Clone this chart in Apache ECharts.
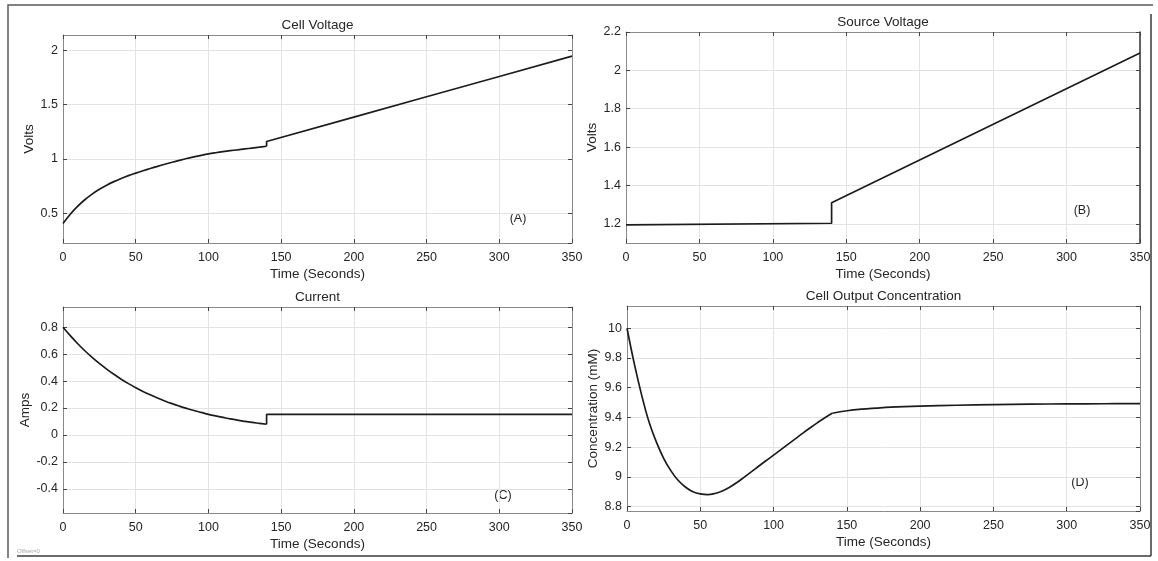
<!DOCTYPE html>
<html>
<head>
<meta charset="utf-8">
<script src="https://cdn.jsdelivr.net/npm/echarts@6/dist/echarts.min.js"></script>
<style>
  html, body { margin: 0; padding: 0; background: #ffffff; }
  #chart { width: 1158px; height: 561px; }
</style>
</head>
<body>
<div id="chart"></div>
<script>
// ---------- data ----------
const panelTitles = ['Cell Voltage', 'Source Voltage', 'Current', 'Cell Output Concentration'];
const panelLetters = ['(A)', '(B)', '(C)', '(D)'];
const yNames = ['Volts', 'Volts', 'Amps', 'Concentration (mM)'];
const xName = 'Time (Seconds)';

// time samples for the first phase (0..140 s)
const timeEarly = [0,5,10,15,20,25,30,35,40,45,50,55,60,65,70,75,80,85,90,95,100,105,110,115,120,125,130,135,140];

// (A) Cell voltage
const cellVoltageEarly = [0.405,0.49,0.562,0.623,0.675,0.719,0.757,0.790,0.819,0.845,0.868,0.890,0.911,0.931,0.950,0.968,0.986,1.003,1.018,1.032,1.045,1.056,1.066,1.075,1.083,1.091,1.099,1.107,1.116];
const cellVoltageLateTime = [140,140,200,250,300,350];
const cellVoltageLate = [1.116,1.16,1.384,1.571,1.758,1.945];

// (B) Source voltage
const sourceTime = [0,140,140,350];
const sourceVoltage = [1.195,1.203,1.31,2.09];

// (C) Current
const currentEarly = [0.80,0.737,0.679,0.625,0.576,0.531,0.489,0.450,0.414,0.381,0.351,0.323,0.298,0.274,0.252,0.232,0.214,0.197,0.181,0.167,0.153,0.141,0.130,0.119,0.110,0.101,0.093,0.086,0.079];
const currentLateTime = [140,140,350];
const currentLate = [0.079,0.152,0.152];

// (D) Cell output concentration
const concEarly = [10.0,9.76,9.55,9.37,9.235,9.125,9.04,8.975,8.93,8.90,8.885,8.88,8.888,8.905,8.93,8.962,8.998,9.035,9.073,9.11,9.146,9.183,9.22,9.257,9.294,9.33,9.365,9.398,9.428];
const concLateTime = [140,150,160,170,180,200,225,250,275,300,325,350];
const concLate = [9.428,9.445,9.456,9.463,9.469,9.476,9.482,9.486,9.489,9.491,9.492,9.493];

// axis ranges
const xMin = 0, xMax = 350, xInterval = 50;
const yRanges = [
  { min: 0.225, max: 2.14, split: 4, showMax: false },
  { min: 1.1, max: 2.2, split: 5, showMax: true },
  { min: -0.58, max: 0.95, split: 7, showMax: false },
  { min: 8.77, max: 10.15, split: 7, showMax: false }
];

// ---------- layout ----------
const FONT = 'Liberation Sans, Arial, Helvetica, sans-serif';
const TXT = '#262626';
const grids = [
  { left: 63, top: 35, width: 509, height: 208 },
  { left: 626, top: 32, width: 514, height: 211 },
  { left: 63, top: 307, width: 509, height: 206 },
  { left: 627, top: 306, width: 513, height: 205 }
];
const yNameGaps = [25, 26, 28, 27];
const letterPos = [[518, 219], [1082, 211], [503, 496], [1080, 483]];
const rightEdgeColors = ['#8a8a8a', '#333333', '#8a8a8a', '#8a8a8a'];

function zip(xs, ys) { return xs.map((x, i) => [x, ys[i]]); }

const tick = { show: true, inside: true, length: 4, lineStyle: { color: '#444' } };
const xAxes = [], yAxes = [];
grids.forEach((g, i) => {
  xAxes.push({
    type: 'value', gridIndex: i, position: 'bottom', min: xMin, max: xMax, interval: xInterval,
    name: xName, nameLocation: 'middle', nameGap: 24,
    nameTextStyle: { fontFamily: FONT, fontSize: 13.5, color: TXT },
    axisLine: { show: true, onZero: false, lineStyle: { color: '#8a8a8a', width: 1 } },
    axisTick: tick,
    axisLabel: { fontFamily: FONT, fontSize: 12.5, color: TXT, margin: 8 },
    splitLine: { show: true, lineStyle: { color: '#e3e3e3', width: 1 } }
  });
  xAxes.push({
    type: 'value', gridIndex: i, position: 'top', min: xMin, max: xMax, interval: xInterval,
    axisLine: { show: true, onZero: false, lineStyle: { color: '#8a8a8a', width: 1 } },
    axisTick: tick,
    axisLabel: { show: false }, splitLine: { show: false }
  });
  const r = yRanges[i];
  yAxes.push({
    type: 'value', gridIndex: i, position: 'left', min: r.min, max: r.max, splitNumber: r.split,
    name: yNames[i], nameLocation: 'middle', nameGap: yNameGaps[i],
    nameTextStyle: { fontFamily: FONT, fontSize: 13.5, color: TXT },
    axisLine: { show: true, onZero: false, lineStyle: { color: '#8a8a8a', width: 1 } },
    axisTick: tick,
    axisLabel: { fontFamily: FONT, fontSize: 12.5, color: TXT, margin: 5, showMinLabel: false, showMaxLabel: r.showMax },
    splitLine: { show: true, lineStyle: { color: '#e3e3e3', width: 1 } }
  });
  yAxes.push({
    type: 'value', gridIndex: i, position: 'right', min: r.min, max: r.max, splitNumber: r.split,
    axisLine: { show: true, onZero: false, lineStyle: { color: rightEdgeColors[i], width: i === 1 ? 1.5 : 1 } },
    axisTick: tick,
    axisLabel: { show: false }, splitLine: { show: false }
  });
});

const lineStyle = { color: '#1c1c1c', width: 1.7 };
function lineSeries(panel, data, smooth) {
  return {
    type: 'line', xAxisIndex: panel * 2, yAxisIndex: panel * 2, data: data,
    showSymbol: false, smooth: smooth ? 0.4 : false,
    lineStyle: lineStyle, animation: false, clip: true
  };
}

const series = [
  lineSeries(0, zip(timeEarly, cellVoltageEarly), true),
  lineSeries(0, zip(cellVoltageLateTime, cellVoltageLate), false),
  lineSeries(1, zip(sourceTime, sourceVoltage), false),
  lineSeries(2, zip(timeEarly, currentEarly), true),
  lineSeries(2, zip(currentLateTime, currentLate), false),
  lineSeries(3, zip(timeEarly, concEarly), true),
  lineSeries(3, zip(concLateTime, concLate), true)
];

const graphics = [];
graphics.push({ type: 'polyline', silent: true, shape: { points: [[8, 558], [8, 5], [1153, 5]] }, style: { stroke: '#5a5a5a', lineWidth: 1.5, fill: null } });
graphics.push({ type: 'line', silent: true, shape: { x1: 1151, y1: 14, x2: 1151, y2: 556 }, style: { stroke: '#3a3a3a', lineWidth: 1.5 } });
graphics.push({ type: 'line', silent: true, shape: { x1: 17, y1: 556, x2: 1151, y2: 556 }, style: { stroke: '#3a3a3a', lineWidth: 1.5 } });
grids.forEach((g, i) => {
  graphics.push({ type: 'text', silent: true, x: g.left + g.width / 2, y: g.top - 10,
    style: { text: panelTitles[i], fontFamily: FONT, fontSize: 13.5, fill: TXT, textAlign: 'center', textVerticalAlign: 'middle' } });
  graphics.push({ type: 'text', silent: true, x: letterPos[i][0], y: letterPos[i][1],
    style: { text: panelLetters[i], fontFamily: FONT, fontSize: 12.5, fill: TXT, textAlign: 'center', textVerticalAlign: 'middle' } });
});
graphics.push({ type: 'text', silent: true, x: 17, y: 551,
  style: { text: 'Offset=0', fontFamily: FONT, fontSize: 6, fill: '#aaaaaa', textAlign: 'left', textVerticalAlign: 'middle' } });

const chart = echarts.init(document.getElementById('chart'), null, { renderer: 'canvas' });
chart.setOption({
  backgroundColor: '#ffffff',
  animation: false,
  grid: grids.map(g => Object.assign({ show: false, containLabel: false }, g)),
  xAxis: xAxes,
  yAxis: yAxes,
  series: series,
  graphic: graphics
});
</script>
</body>
</html>
